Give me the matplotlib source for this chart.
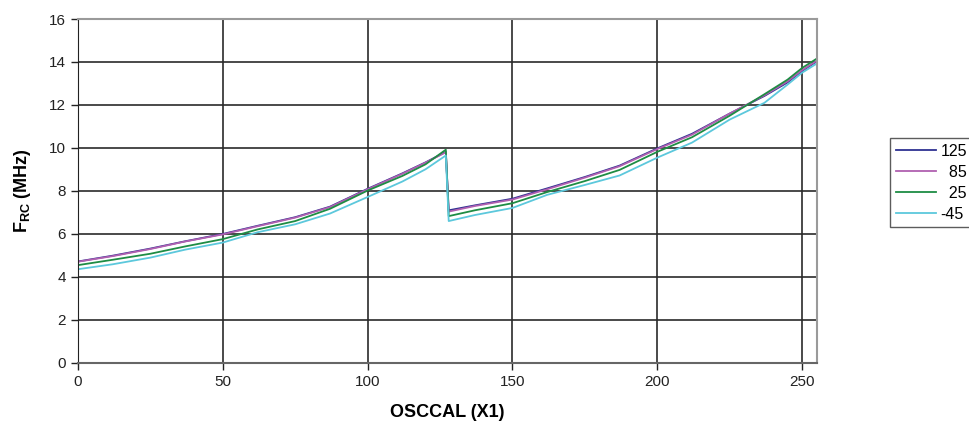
import matplotlib.pyplot as plt

plt.rcParams['font.family'] = ['Liberation Sans', 'DejaVu Sans']
plt.rcParams['mathtext.fontset'] = 'custom'
plt.rcParams['mathtext.bf'] = 'Liberation Sans:bold'
plt.rcParams['mathtext.rm'] = 'Liberation Sans'

# OSCCAL settings (drop between 127 and 128)
osccal = [0, 12, 25, 37, 50, 62, 75, 87, 100, 112, 120, 127,
          128, 137, 150, 162, 175, 187, 200, 212, 225, 237, 245, 250, 255]

# frequency in MHz for each temperature
f_125 = [4.72, 4.99, 5.32, 5.66, 6.00, 6.38, 6.78, 7.27, 8.10, 8.82, 9.33, 9.82,
         7.10, 7.33, 7.64, 8.12, 8.65, 9.18, 9.98, 10.66, 11.60, 12.42, 13.05, 13.58, 14.02]
f_85 = [4.71, 4.97, 5.30, 5.65, 5.98, 6.36, 6.76, 7.25, 8.08, 8.80, 9.32, 9.80,
        7.04, 7.30, 7.60, 8.08, 8.62, 9.15, 9.95, 10.62, 11.60, 12.45, 13.10, 13.62, 14.05]
f_25 = [4.55, 4.80, 5.08, 5.42, 5.76, 6.21, 6.60, 7.17, 8.02, 8.70, 9.24, 9.92,
        6.83, 7.10, 7.43, 7.95, 8.46, 8.98, 9.82, 10.50, 11.50, 12.50, 13.18, 13.72, 14.15]
f_m45 = [4.36, 4.59, 4.90, 5.27, 5.60, 6.08, 6.45, 6.95, 7.72, 8.44, 9.01, 9.65,
         6.60, 6.88, 7.21, 7.82, 8.28, 8.72, 9.55, 10.25, 11.32, 12.10, 12.95, 13.50, 13.92]

labels = ['125', '85', '25', '-45']
colors = ['#2E3192', '#B060B0', '#1E8C44', '#5CC8DC']

fig = plt.figure(figsize=(9.7, 4.28), dpi=100)
ax = fig.add_axes([0.0804, 0.152, 0.7614, 0.8036])

for vals, lab, col in zip([f_125, f_85, f_25, f_m45], labels, colors):
    # pad with figure spaces so the numbers line up on the right like the original
    shown = lab if lab.startswith('-') else lab.rjust(3, '\u2007')
    ax.plot(osccal, vals, color=col, lw=1.3, label=shown)

ax.set_xlim(0, 255)
ax.set_ylim(0, 16)
ax.set_xticks(range(0, 251, 50))
ax.set_yticks(range(0, 17, 2))
ax.grid(True, color='#2a2a2a', lw=1.2)
ax.set_axisbelow(True)
ax.tick_params(labelsize=11, length=5, width=1, colors='#222222')

for side in ['top', 'right']:
    ax.spines[side].set_color('#9a9a9a')
    ax.spines[side].set_linewidth(1.5)
ax.spines['left'].set_color('#222222')
ax.spines['bottom'].set_color('#666666')
ax.spines['bottom'].set_linewidth(1.5)

ax.set_xlabel('OSCCAL (X1)', fontsize=13, fontweight='bold', labelpad=11)
ax.set_ylabel(r'F$_{\mathbf{RC}}$ (MHz)', fontsize=13, fontweight='bold', labelpad=12)

leg = fig.legend(loc='upper left', bbox_to_anchor=(890 / 970, 1 - 138 / 428),
                 fontsize=11.5, frameon=True, fancybox=False, edgecolor='#333333',
                 handlelength=2.5, handletextpad=0.3, labelspacing=0.38,
                 borderpad=0.35, borderaxespad=0)
leg.get_frame().set_linewidth(1.0)

fig.savefig('out.png', dpi=100)
